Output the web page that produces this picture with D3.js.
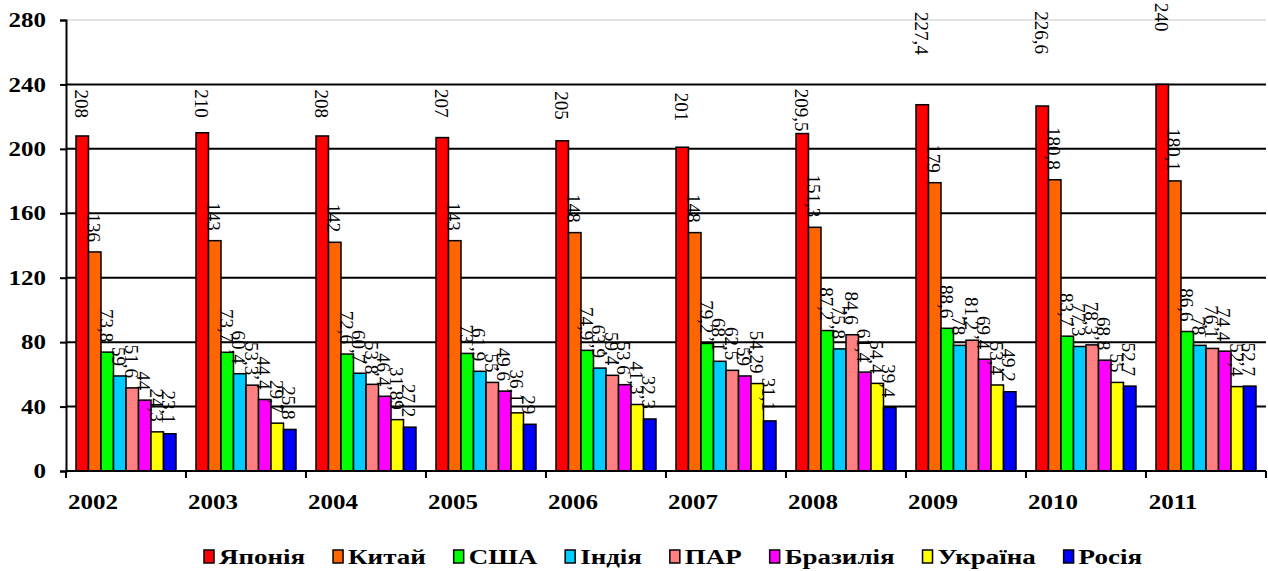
<!DOCTYPE html>
<html>
<head>
<meta charset="utf-8">
<script src="https://cdn.jsdelivr.net/npm/d3@7"></script>
<style>
  html, body { margin: 0; padding: 0; background: #fff; }
  svg { display: block; }
  text { font-family: "Liberation Serif", "Times New Roman", Tinos, "DejaVu Serif", serif; }
</style>
</head>
<body>
<svg id="chart" width="1268" height="571"></svg>
<script>
// Years on the x axis
const years = ['2002', '2003', '2004', '2005', '2006', '2007', '2008', '2009', '2010', '2011'];

// Series, one value per year
const japan   = [208, 210, 208, 207, 205, 201, 209.5, 227.4, 226.6, 240];
const china   = [136, 143, 142, 143, 148, 148, 151.3, 179, 180.8, 180.1];
const usa     = [73.8, 73.7, 72.6, 73, 74.9, 79.2, 87.2, 88.6, 83.7, 86.6];
const india   = [59, 60.4, 60.7, 61.9, 63.9, 68.1, 75.8, 78, 77.3, 78];
const sar     = [51.6, 53.3, 53.8, 55, 59.4, 62.5, 84.6, 81.2, 78.3, 76.1];
const brazil  = [44, 44.4, 46.4, 49.6, 53.6, 59, 61.4, 69.4, 68.8, 74.4];
const ukraine = [24.3, 29.7, 31.89, 36.1, 41.3, 54.29, 54.4, 53.4, 55, 52.4];
const russia  = [23.1, 25.8, 27.2, 29, 32.3, 31.1, 39.4, 49.2, 52.7, 52.7];

const seriesNames  = ['Японія', 'Китай', 'США', 'Індія', 'ПАР', 'Бразилія', 'Україна', 'Росія'];
const seriesValues = [japan, china, usa, india, sar, brazil, ukraine, russia];
const seriesColors = ['#ff0000', '#ff6600', '#00ff00', '#00ccff', '#ff8080', '#ff00ff', '#ffff00', '#0000ff'];

// Y axis ticks
const yTicks = [0, 40, 80, 120, 160, 200, 240, 280];

// Gap (px) between a bar top and its label; the Японія labels were hand-placed
const labelGap = 10;
const japanLabelGap = [18, 15, 18, 20, 21, 26, 2, 50, 52, 53];

const svg = d3.select('#chart');
const stretch = 1.25;   // axis text is drawn a little wide

const plot = { left: 66, right: 1266, top: 20, bottom: 471 };

const x = d3.scaleBand().domain(years).range([plot.left, plot.right]).padding(0);
const inner = d3.scaleBand().domain(d3.range(seriesNames.length))
  .range([10, x.bandwidth() - 10]).padding(0);
const y = d3.scaleLinear().domain([0, 280]).range([plot.bottom, plot.top]);

// Horizontal gridlines
svg.append('g').selectAll('line')
  .data(yTicks.filter(t => t > 0))
  .join('line')
  .attr('x1', plot.left).attr('x2', plot.right)
  .attr('y1', d => y(d)).attr('y2', d => y(d))
  .attr('stroke', d => d === 280 ? '#c8c8c8' : '#000')
  .attr('stroke-width', d => d === 280 ? 1 : 2);

// Bars
const rows = [];
years.forEach((yr, i) => {
  seriesValues.forEach((vals, s) => rows.push({ year: yr, i, s, v: vals[i] }));
});

svg.append('g').selectAll('rect')
  .data(rows)
  .join('rect')
  .attr('x', d => x(d.year) + inner(d.s))
  .attr('y', d => y(d.v))
  .attr('width', inner.bandwidth())
  .attr('height', d => y(0) - y(d.v))
  .attr('fill', d => seriesColors[d.s])
  .attr('stroke', '#000')
  .attr('stroke-width', 1.5);

// Value labels, rotated to read downward
const fmt = v => String(v).replace('.', ',');
svg.append('g').selectAll('text')
  .data(rows)
  .join('text')
  .attr('transform', d => {
    const cx = x(d.year) + inner(d.s) + inner.bandwidth() / 2 - 1;
    const gap = d.s === 0 ? japanLabelGap[d.i] : labelGap;
    return `translate(${cx},${y(d.v) - gap}) rotate(90)`;
  })
  .attr('text-anchor', 'end')
  .attr('dominant-baseline', 'central')
  .attr('font-size', 19)
  .attr('fill', '#000')
  .text(d => fmt(d.v));

// Y axis line and ticks
const yAxis = svg.append('g')
  .attr('transform', `translate(${plot.left},0)`)
  .call(d3.axisLeft(y).tickValues(yTicks).tickSize(6).tickFormat(''));
yAxis.select('.domain').attr('stroke', '#000').attr('stroke-width', 2);
yAxis.selectAll('.tick line').attr('stroke', '#000').attr('stroke-width', 2);
yAxis.selectAll('.tick')
  .append('text')
  .attr('transform', `translate(-20,0) scale(${stretch},1)`)
  .attr('text-anchor', 'end')
  .attr('dominant-baseline', 'central')
  .attr('font-size', 20).attr('font-weight', 'bold').attr('fill', '#000')
  .text(d => d);

// X axis with ticks at category boundaries
const xAxisG = svg.append('g').attr('transform', `translate(0,${plot.bottom})`);
xAxisG.append('line')
  .attr('x1', plot.left).attr('x2', plot.right)
  .attr('stroke', '#000').attr('stroke-width', 2);
xAxisG.selectAll('line.tk')
  .data(d3.range(years.length + 1))
  .join('line')
  .attr('class', 'tk')
  .attr('x1', i => plot.left + i * x.bandwidth())
  .attr('x2', i => plot.left + i * x.bandwidth())
  .attr('y1', 0).attr('y2', 7)
  .attr('stroke', '#000').attr('stroke-width', 2);
xAxisG.selectAll('text')
  .data(years)
  .join('text')
  .attr('transform', d => `translate(${x(d) + 27},38) scale(${stretch},1)`)
  .attr('text-anchor', 'middle')
  .attr('font-size', 20).attr('font-weight', 'bold')
  .text(d => d);

// Legend spread across the bottom
const legendStretch = 1.35;
const legendLeft = 204, legendRight = 1142;
const legend = svg.append('g').attr('transform', 'translate(0,557)');
const items = legend.selectAll('g').data(seriesNames).join('g');
items.append('rect')
  .attr('width', 10).attr('height', 13).attr('y', -7)
  .attr('fill', (d, i) => seriesColors[i])
  .attr('stroke', '#000').attr('stroke-width', 1.5);
items.append('text')
  .attr('transform', `translate(15,0) scale(${legendStretch},1)`)
  .attr('dominant-baseline', 'central')
  .attr('font-size', 20).attr('font-weight', 'bold')
  .text(d => d);
const widths = [];
items.each(function () {
  widths.push(15 + d3.select(this).select('text').node().getComputedTextLength() * legendStretch);
});
const gap = (legendRight - legendLeft - d3.sum(widths)) / (widths.length - 1);
const offsets = widths.map((w, i) => legendLeft + d3.sum(widths.slice(0, i)) + gap * i);
items.attr('transform', (d, i) => `translate(${offsets[i]},0)`);
</script>
</body>
</html>
